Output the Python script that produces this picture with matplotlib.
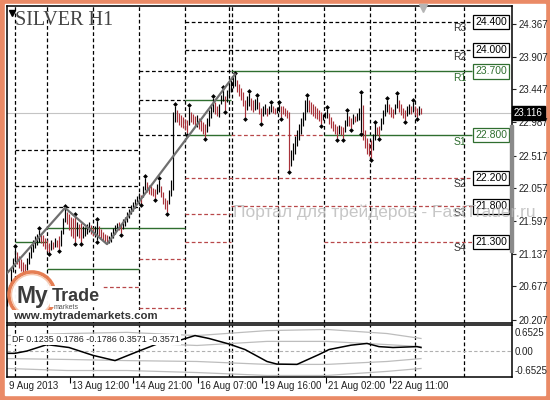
import matplotlib
matplotlib.use('Agg')
import matplotlib.pyplot as plt
import matplotlib.patches as mpatches
import matplotlib.transforms as mtransforms

plt.rcParams['font.family'] = ['Liberation Sans', 'DejaVu Sans']

# SILVER H1 bars, index 0 = first visible bar (9 Aug 2013)
bar_hi = [20.54, 20.69, 20.93, 21.08, 21.22, 21.16, 21.10, 21.06, 21.02, 20.99,
          21.08, 21.16, 21.26, 21.33, 21.38, 21.41, 21.47, 21.42, 21.40, 21.36,
          21.33, 21.29, 21.33, 21.30, 21.36, 21.33, 21.38, 21.47, 21.64, 21.78,
          21.72, 21.69, 21.65, 21.64, 21.67, 21.58, 21.55, 21.57, 21.52, 21.51,
          21.55, 21.58, 21.54, 21.50, 21.52, 21.60, 21.52, 21.48, 21.44, 21.41,
          21.40, 21.38, 21.44, 21.50, 21.54, 21.57, 21.58, 21.55, 21.62, 21.65,
          21.72, 21.76, 21.82, 21.86, 21.90, 21.95, 21.99, 21.96, 22.09, 22.20,
          22.14, 22.10, 22.09, 22.06, 22.05, 22.12, 22.17, 22.09, 22.00, 21.92,
          21.89, 22.03, 22.17, 23.13, 23.21, 23.16, 23.12, 23.09, 23.06, 23.03,
          23.02, 23.20, 23.13, 23.10, 23.07, 23.09, 23.04, 23.02, 22.99, 22.96,
          23.04, 23.16, 23.24, 23.33, 23.27, 23.21, 23.24, 23.37, 23.45, 23.35,
          23.44, 23.52, 23.58, 23.64, 23.66, 23.58, 23.52, 23.47, 23.41, 23.30,
          23.35, 23.40, 23.33, 23.30, 23.31, 23.34, 23.27, 23.19, 23.21, 23.24,
          23.19, 23.21, 23.24, 23.21, 23.19, 23.20, 23.24, 23.21, 23.21, 23.19,
          23.16, 23.13, 22.60, 22.70, 22.79, 22.88, 22.96, 23.04, 23.13, 23.30,
          23.34, 23.30, 23.27, 23.24, 23.21, 23.19, 23.16, 23.13, 23.10, 23.13,
          23.17, 23.12, 23.06, 23.00, 22.96, 22.93, 22.95, 22.93, 22.92, 23.02,
          23.13, 23.07, 23.04, 23.10, 23.07, 23.12, 23.19, 23.38, 23.23, 22.88,
          22.76, 22.70, 22.73, 22.82, 22.97, 22.92, 22.93, 23.04, 23.16, 23.24,
          23.30, 23.24, 23.20, 23.17, 23.24, 23.37, 23.30, 23.24, 23.19, 23.16,
          23.21, 23.24, 23.21, 23.27, 23.21, 23.19, 23.21, 23.19]
bar_lo = [20.40, 20.48, 20.62, 20.88, 21.02, 20.99, 20.93, 20.89, 20.85, 20.82,
          20.91, 20.99, 21.08, 21.16, 21.22, 21.26, 21.30, 21.29, 21.24, 21.20,
          21.17, 21.15, 21.19, 21.20, 21.23, 21.23, 21.20, 21.24, 21.41, 21.58,
          21.55, 21.47, 21.38, 21.36, 21.30, 21.38, 21.36, 21.29, 21.36, 21.38,
          21.41, 21.44, 21.41, 21.38, 21.37, 21.33, 21.38, 21.36, 21.33, 21.30,
          21.27, 21.29, 21.30, 21.36, 21.41, 21.48, 21.47, 21.42, 21.48, 21.52,
          21.58, 21.64, 21.69, 21.74, 21.78, 21.86, 21.89, 21.84, 21.93, 22.03,
          22.00, 21.97, 21.96, 21.95, 21.92, 21.97, 22.00, 21.93, 21.84, 21.76,
          21.72, 21.84, 21.95, 22.03, 22.99, 22.99, 22.95, 22.92, 22.90, 22.88,
          22.83, 22.95, 22.99, 22.96, 22.93, 22.92, 22.89, 22.86, 22.82, 22.78,
          22.85, 22.93, 23.04, 23.13, 23.10, 23.07, 23.06, 23.24, 23.28, 23.16,
          23.27, 23.35, 23.41, 23.47, 23.49, 23.41, 23.35, 23.30, 23.21, 23.06,
          23.16, 23.21, 23.16, 23.13, 23.16, 23.17, 23.10, 22.99, 23.07, 23.10,
          23.07, 23.10, 23.13, 23.12, 23.10, 23.12, 23.13, 23.06, 23.10, 23.07,
          23.04, 22.31, 22.37, 22.45, 22.54, 22.65, 22.73, 22.82, 22.93, 23.02,
          23.13, 23.13, 23.10, 23.07, 23.04, 23.03, 23.00, 22.96, 23.02, 23.04,
          23.04, 22.96, 22.90, 22.86, 22.82, 22.76, 22.82, 22.81, 22.76, 22.85,
          22.93, 22.93, 22.90, 22.96, 22.99, 23.00, 23.02, 22.85, 22.73, 22.62,
          22.54, 22.51, 22.48, 22.60, 22.73, 22.81, 22.78, 22.88, 22.96, 23.07,
          23.13, 23.10, 23.06, 23.04, 23.10, 23.19, 23.13, 23.09, 23.04, 23.02,
          23.07, 23.10, 23.10, 23.13, 23.09, 23.06, 23.09, 23.10]
bar_dir = ("uuuuuddddd" "uuuuuuuddd" "ddududduuu" "dddddudduu" "uudduudddd"
           "duuuuudduu" "uuuuuuuduu" "ddddduuddd" "duuuuddddd" "dudddudddd"
           "uuuudduuud" "uuuuuddddd" "uudduudduu" "duudduuddd" "dduuuuuuuu"
           "uddddddduu" "uddddduddu" "udduduuudd" "ddduudduuu" "uddduudddd"
           "uududdud")

frac_hi = [4, 16, 29, 34, 45, 69, 76, 84, 91, 103, 108, 114, 121, 125, 132,
           136, 150, 160, 170, 177, 184, 190, 195, 203]
frac_lo = [21, 26, 34, 37, 45, 57, 67, 74, 80, 90, 99, 109, 119, 127, 137,
           141, 157, 165, 168, 172, 177, 182, 186, 199, 205]

zz_idx = [0, 29, 50, 114]
zz_price = [20.86, 21.78, 21.27, 23.66]

# daily support / resistance segments
lvl_start = [4, 4, 4, 66, 66, 66, 89, 89,
             4, 20, 20, 89, 89, 112, 158.5,
             112, 89, 89, 112, 89, 158.5, 66, 20, 66]
lvl_end = [66, 66, 66, 112, 89, 89, 232.5, 232.5,
           20, 89, 66, 112, 112, 232.5, 232.5,
           158.5, 232.5, 112, 232.5, 112, 232.5, 89, 66, 89]
lvl_price = [22.60, 22.09, 21.79, 23.70, 23.30, 22.80, 24.40, 24.00,
             21.30, 21.49, 20.92, 23.30, 22.80, 23.70, 22.80,
             22.80, 22.20, 21.69, 21.80, 21.30, 21.30, 21.06, 20.67, 20.37]
lvl_kind = ['k'] * 8 + ['g'] * 7 + ['r'] * 9

tag_names = ['R3', 'R2', 'R1', 'S1', 'S2', 'S3', 'S4']
tag_prices = [24.400, 24.000, 23.700, 22.800, 22.200, 21.800, 21.300]

last_price = 23.116
price_ticks = [24.367, 23.907, 23.447, 22.987, 22.517, 22.057, 21.597, 21.137, 20.677, 20.207]

separators = [4, 20, 43, 66, 89, 111.2, 112.3, 135.5, 158.5, 181.5, 204, 228.5]
time_ticks = [0, 31.5, 63, 95.5, 127.5, 159.5, 191.5]
time_labels = ['9 Aug 2013', '13 Aug 12:00', '14 Aug 21:00', '16 Aug 07:00',
               '19 Aug 16:00', '21 Aug 02:00', '22 Aug 11:00']

# DF indicator
df_idx = [0, 4, 10, 20, 31, 43, 54, 66, 75, 83, 86, 94, 101, 111, 119, 130,
          135, 145, 156, 161, 172, 180, 186, 193, 205, 207]
df_val = [-0.08, -0.08, 0.0, 0.22, 0.12, -0.15, -0.33, 0.0, 0.24, 0.26, 0.36,
          0.53, 0.43, 0.24, 0.05, -0.36, -0.45, -0.46, -0.12, 0.05, 0.20, 0.26,
          0.15, 0.12, 0.15, 0.12]
band_idx = [0, 30, 60, 95, 130, 160, 190, 207]
band_up2 = [0.53, 0.60, 0.64, 0.53, 0.70, 0.74, 0.60, 0.43]
band_up1 = [0.22, 0.26, 0.29, 0.19, 0.33, 0.33, 0.22, 0.15]
band_dn1 = [-0.26, -0.29, -0.33, -0.36, -0.46, -0.46, -0.36, -0.26]
band_dn2 = [-0.60, -0.67, -0.67, -0.74, -0.84, -0.84, -0.70, -0.60]
df_title = 'DF 0.1235 0.1786 -0.1786 0.3571 -0.3571'
df_ticks = [0.6525, 0.0, -0.6525]

UP = 'black'
DOWN = '#a8323a'
GREEN = '#2f6e2f'
RED = '#b8484a'
DASH = (0, (3, 2))

fig = plt.figure(figsize=(5.5, 4), dpi=100)

# window frame
bg = fig.add_axes([0, 0, 1, 1], zorder=-5)
bg.set_xlim(0, 550)
bg.set_ylim(400, 0)
bg.axis('off')
bg.add_patch(mpatches.Rectangle((0, 0), 550, 400, color='#ea8a66'))
bg.add_patch(mpatches.Rectangle((5, 4), 540, 391, color='white'))

ax = fig.add_axes([7 / 550, 1 - 323 / 400, 505 / 550, 317 / 400])
ax2 = fig.add_axes([7 / 550, 1 - 377 / 400, 505 / 550, 52 / 400])

n = len(bar_hi)
xs = list(range(n))

# main chart
ax.set_xlim(0, 252.5)
ax.set_ylim(20.160, 24.621)
ax.axhline(last_price, color='#c4c4c4', lw=0.8, zorder=1)
for s in separators:
    ax.axvline(s, color='black', lw=0.9, ls=DASH, zorder=1)

for a, b, p, k in zip(lvl_start, lvl_end, lvl_price, lvl_kind):
    if k == 'k':
        ax.hlines(p, a, b, colors='black', lw=0.9, linestyles=DASH, zorder=2)
    elif k == 'g':
        ax.hlines(p, a, b, colors=GREEN, lw=1.0, zorder=2)
    else:
        ax.hlines(p, a, b, colors=RED, lw=0.9, linestyles=DASH, zorder=2)

colors = [UP if d == 'u' else DOWN for d in bar_dir]
ax.vlines(xs, bar_lo, bar_hi, colors=colors, lw=0.85, zorder=3)
ax.scatter(frac_hi, [bar_hi[i] + 0.025 for i in frac_hi], marker='D', s=6,
           c='black', zorder=4, linewidths=0)
ax.scatter(frac_lo, [bar_lo[i] - 0.025 for i in frac_lo], marker='D', s=6,
           c='black', zorder=4, linewidths=0)
ax.plot(zz_idx, zz_price, color='#6f6f6f', lw=1.6, zorder=5)

for name, p in zip(tag_names, tag_prices):
    c = GREEN if name in ('R1', 'S1') else 'black'
    ax.text(234, p, '%.3f' % p, ha='left', va='center', fontsize=7.5, color=c,
            zorder=6, bbox=dict(boxstyle='square,pad=0.2', fc='white', ec=c, lw=0.9))
    ax.text(226.5, p - 0.09, name, ha='center', va='center', fontsize=7.5,
            color=GREEN if c == GREEN else '#333333', zorder=6)

ax.yaxis.tick_right()
ax.set_yticks(price_ticks)
ax.set_yticklabels(['%.3f' % t for t in price_ticks])
ax.tick_params(axis='y', length=3, pad=1.5, labelsize=7, colors='#222222')
ax.set_xticks([])
for sp in ax.spines.values():
    sp.set_linewidth(1.1)

yblend = mtransforms.blended_transform_factory(ax.transAxes, ax.transData)
ax.text(1.004, last_price, '%.3f' % last_price, transform=yblend, ha='left',
        va='center', fontsize=7, color='white', zorder=7,
        bbox=dict(boxstyle='square,pad=0.2', fc='black', ec='black'))

ax.text(0.016, 0.985, 'SILVER H1', transform=ax.transAxes, ha='left', va='top',
        fontsize=14.5, family='Liberation Serif', color='#444444')

# DF indicator panel
ax2.set_xlim(0, 252.5)
ax2.set_ylim(-0.893, 0.893)
for s in separators:
    ax2.axvline(s, color='black', lw=0.9, ls=DASH, zorder=1)
ax2.axhline(0, color='#b0b0b0', lw=0.8, ls=DASH, zorder=1)
for band in (band_up2, band_up1, band_dn1, band_dn2):
    ax2.plot(band_idx, band, color='#bdbdbd', lw=0.9, zorder=2)
ax2.plot(df_idx, df_val, color='black', lw=1.1, zorder=3)
ax2.text(0.01, 0.72, df_title, transform=ax2.transAxes, ha='left', va='center',
         fontsize=6.4, color='#222222', zorder=4,
         bbox=dict(boxstyle='square,pad=0.15', fc='white', ec='none'))
ax2.yaxis.tick_right()
ax2.set_yticks(df_ticks)
ax2.set_yticklabels(['0.6525', '0.00', '-0.6525'])
ax2.tick_params(axis='y', length=0, pad=2, labelsize=7, colors='#222222')
ax2.set_xticks(time_ticks[1:])
ax2.set_xticklabels([])
ax2.tick_params(axis='x', length=4, direction='out')
for sp in ax2.spines.values():
    sp.set_linewidth(1.1)
xblend = mtransforms.blended_transform_factory(ax2.transData, ax2.transAxes)
for t, lbl in zip(time_ticks, time_labels):
    ax2.text(t + 0.8, -0.07, lbl, transform=xblend, ha='left', va='top',
             fontsize=7, color='#222222')

# overlay: watermark, logo, markers
ov = fig.add_axes([0, 0, 1, 1], zorder=5)
ov.set_xlim(0, 550)
ov.set_ylim(400, 0)
ov.axis('off')
ov.text(233, 212, 'Портал для трейдеров - FastTrader.ru', ha='left', va='center',
        fontsize=12.5, color='#b8b8b8', alpha=0.8)
ov.add_patch(mpatches.Rectangle((510, 125), 3, 127, color='#8a8a8a'))
ov.plot([12], [13], marker='v', ms=4, color='black')
ov.plot([423], [8], marker='v', ms=6, color='#b5b5b5')

ov.add_patch(mpatches.Circle((32, 295), 23, fc='white', ec='#e57a4e', lw=2.6, alpha=0.97))
ov.add_patch(mpatches.Circle((32, 295), 20.5, fc='none', ec='#f6c7ae', lw=1.0))
ov.text(16, 303, 'My', ha='left', va='baseline', fontsize=16.5, fontweight='bold',
        color='#3b3b3b')
ov.text(52, 301, 'Trade', ha='left', va='baseline', fontsize=13, fontweight='bold',
        color='#3b3b3b', bbox=dict(boxstyle='square,pad=0.1', fc='white', ec='none'))
ov.text(54, 309, 'markets', ha='left', va='baseline', fontsize=5, color='#555555')
ov.text(13, 319, 'www.mytrademarkets.com', ha='left', va='baseline', fontsize=8.2,
        fontweight='bold', color='#333333',
        bbox=dict(boxstyle='square,pad=0.1', fc='white', ec='none'))

fig.savefig('out.png', dpi=100)
